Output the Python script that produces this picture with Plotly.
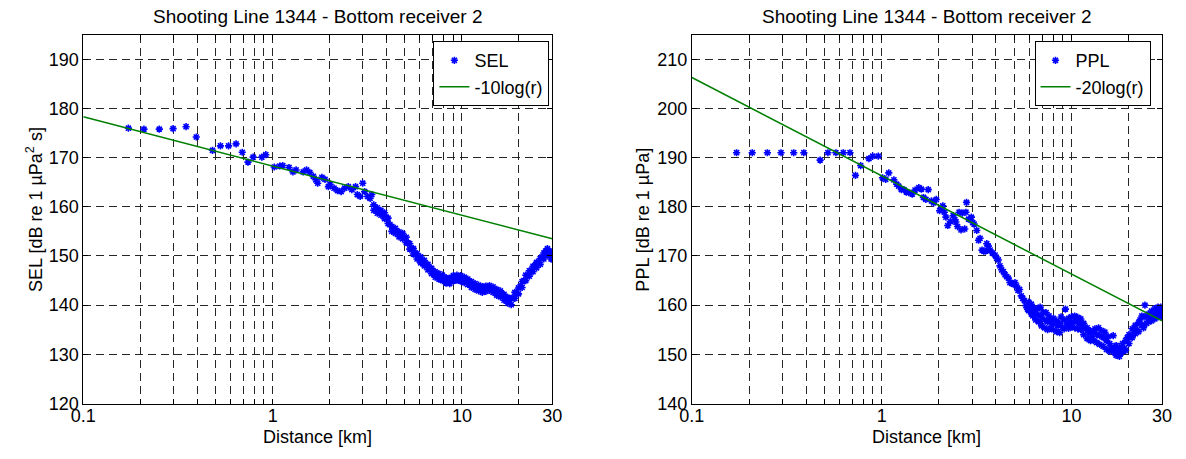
import math
import plotly.graph_objects as go

# ---------------- data ----------------
sel_points = [
    (0.173, 176.0), (0.209, 175.8), (0.252, 175.8), (0.298, 175.9), (0.349, 176.3), (0.395, 174.2),
    (0.481, 171.5), (0.530, 172.4), (0.585, 172.4), (0.641, 172.8), (0.691, 171.1), (0.741, 169.1),
    (0.789, 170.1), (0.877, 170.1), (0.920, 170.6),
    (1.02, 168.1), (1.09, 168.3), (1.13, 168.4), (1.22, 168.0), (1.28, 167.1), (1.33, 167.5),
    (1.45, 167.1), (1.51, 167.5), (1.57, 167.0), (1.64, 166.2), (1.69, 165.5), (1.73, 164.8),
    (1.82, 166.0), (1.89, 165.6), (1.97, 164.1), (2.01, 164.6), (2.11, 163.8), (2.20, 163.3),
    (2.30, 163.1), (2.40, 163.8), (2.51, 164.1), (2.62, 163.5), (2.74, 164.1), (2.80, 162.5),
    (2.90, 162.1), (2.99, 164.8), (3.06, 163.1), (3.17, 162.1), (3.27, 161.7), (3.34, 162.5),
    (3.42, 160.4), (3.42, 159.3), (3.50, 159.6), (3.57, 159.8), (3.57, 158.7), (3.65, 159.0),
    (3.73, 159.3), (3.73, 158.3), (3.81, 158.6), (3.90, 158.8), (3.90, 157.6), (3.98, 157.9),
    (4.07, 157.7), (4.07, 156.6), (4.16, 156.4), (4.26, 156.0), (4.26, 155.0), (4.35, 155.6),
    (4.45, 155.6), (4.45, 154.6), (4.55, 154.9), (4.65, 154.9), (4.65, 153.9), (4.75, 154.4),
    (4.86, 154.6), (4.86, 153.5), (4.97, 153.7), (5.08, 153.8), (5.08, 152.7), (5.19, 152.6),
    (5.30, 152.5), (5.30, 151.4), (5.42, 151.5), (5.54, 151.5), (5.54, 150.4), (5.66, 150.5),
    (5.79, 150.5), (5.79, 149.4), (5.92, 149.6), (6.05, 149.8), (6.05, 148.6), (6.19, 148.9),
    (6.33, 149.1), (6.33, 148.0), (6.47, 148.2), (6.61, 148.3), (6.61, 147.2), (6.76, 147.5),
    (6.91, 147.5), (6.91, 146.4), (7.06, 146.8), (7.22, 146.8), (7.22, 145.7), (7.38, 146.3),
    (7.55, 146.4), (7.55, 145.3), (7.71, 145.8), (7.88, 146.1), (7.88, 145.0), (8.06, 145.5),
    (8.24, 145.6), (8.24, 144.5), (8.42, 145.1), (8.61, 145.5), (8.61, 144.4), (8.80, 145.1),
    (9.00, 146.0), (9.00, 144.9), (9.20, 145.5), (9.40, 146.1), (9.40, 145.1), (9.61, 145.7),
    (9.83, 146.0), (9.83, 144.9), (10.05, 145.5), (10.27, 145.7), (10.27, 144.6), (10.50, 145.2),
    (10.73, 145.3), (10.73, 144.2), (10.97, 144.8), (11.21, 144.8), (11.21, 143.6), (11.46, 144.2),
    (11.72, 144.4), (11.72, 143.2), (11.98, 143.8), (12.24, 144.1), (12.24, 142.9), (12.52, 143.7),
    (12.80, 143.8), (12.80, 142.6), (13.08, 143.2), (13.37, 143.9), (13.37, 142.8), (13.67, 143.5),
    (13.97, 144.0), (13.97, 143.0), (14.28, 143.4), (14.60, 143.7), (14.60, 142.6), (14.93, 143.1),
    (15.26, 143.2), (15.26, 142.0), (15.60, 142.8), (15.95, 142.9), (15.95, 141.7), (16.30, 142.2),
    (16.67, 142.2), (16.67, 141.0), (17.04, 141.6), (17.42, 141.6), (17.42, 140.4), (17.80, 141.0),
    (18.20, 141.4), (18.20, 140.1), (18.60, 141.5), (19.02, 142.6), (19.02, 141.4), (19.44, 142.5),
    (19.88, 143.5), (19.88, 142.3), (20.32, 143.8), (20.77, 144.8), (20.77, 143.6), (21.23, 145.0),
    (21.71, 146.1), (21.71, 145.0), (22.19, 146.1), (22.68, 147.0), (22.68, 145.9), (23.19, 147.0),
    (23.71, 147.9), (23.71, 146.8), (24.23, 148.0), (24.77, 148.7), (24.77, 147.6), (25.32, 148.7),
    (25.89, 149.5), (25.89, 148.3), (26.46, 149.8), (27.05, 150.6), (27.05, 149.4), (27.65, 151.0),
    (28.27, 151.5), (28.27, 150.2), (28.90, 151.0), (29.54, 150.6), (29.54, 149.4), (29.90, 149.4),
    (29.90, 150.2),
]

ppl_points = [
    (0.172, 191.0), (0.208, 191.0), (0.250, 191.0), (0.295, 191.0), (0.344, 191.0), (0.389, 191.0),
    (0.474, 189.5), (0.521, 191.0), (0.574, 191.0), (0.628, 191.0), (0.681, 191.0), (0.728, 186.4),
    (0.775, 188.4), (0.857, 189.8), (0.897, 190.3), (0.960, 190.3),
    (1.01, 185.9), (1.05, 185.6), (1.09, 186.9), (1.16, 185.5), (1.20, 184.6), (1.23, 184.2),
    (1.27, 183.5), (1.31, 183.5), (1.35, 183.0), (1.39, 182.9), (1.45, 182.6), (1.50, 183.4),
    (1.57, 183.9), (1.62, 183.6), (1.66, 181.9), (1.71, 181.5), (1.76, 183.5), (1.83, 181.2),
    (1.88, 180.8), (1.94, 181.5), (2.02, 179.2), (2.06, 179.8), (2.10, 180.2), (2.14, 178.9),
    (2.18, 177.9), (2.23, 176.2), (2.30, 177.0), (2.38, 178.2), (2.43, 177.4), (2.46, 176.9),
    (2.51, 176.0), (2.56, 178.9), (2.62, 175.3), (2.66, 178.7), (2.74, 175.5), (2.78, 178.9),
    (2.80, 180.9), (2.87, 177.5), (2.97, 177.9), (3.02, 176.8), (3.07, 176.5), (3.17, 175.2),
    (3.24, 173.2), (3.30, 173.6), (3.38, 171.2), (3.45, 171.0), (3.53, 171.0), (3.58, 172.5),
    (3.65, 172.0), (3.73, 171.2), (3.83, 170.6), (3.96, 170.2), (4.04, 169.5), (4.12, 169.2),
    (4.20, 168.0), (4.29, 167.2), (4.38, 166.8), (4.47, 166.2), (4.56, 165.8), (4.65, 165.5),
    (4.74, 164.6), (4.84, 164.5), (4.94, 164.3), (5.04, 164.6), (5.14, 163.9), (5.23, 163.0),
    (5.33, 163.2), (5.44, 161.9), (5.54, 161.4), (5.65, 160.9), (5.76, 159.9), (5.87, 159.2),
    (5.95, 160.6), (5.95, 158.9), (6.05, 159.8), (6.15, 160.2), (6.15, 158.2), (6.26, 159.5),
    (6.26, 157.8), (6.37, 159.0), (6.48, 158.4), (6.48, 157.0), (6.60, 159.3), (6.72, 158.0),
    (6.72, 156.6), (6.84, 159.6), (6.96, 157.5), (6.96, 155.8), (7.09, 158.6), (7.22, 157.0),
    (7.22, 155.4), (7.35, 158.5), (7.49, 156.6), (7.49, 155.0), (7.62, 157.8), (7.76, 157.0),
    (7.76, 155.3), (7.90, 156.2), (8.05, 157.3), (8.05, 155.0), (8.20, 156.4), (8.35, 156.8),
    (8.35, 154.6), (8.50, 155.8), (8.66, 156.3), (8.66, 154.4), (8.82, 157.6), (8.98, 155.5),
    (9.15, 157.0), (9.15, 155.2), (9.30, 159.2), (9.48, 156.2), (9.65, 157.3), (9.65, 155.3),
    (9.83, 156.4), (10.0, 157.6), (10.0, 155.6), (10.2, 156.6), (10.4, 157.8), (10.4, 155.4),
    (10.6, 156.8), (10.8, 157.5), (10.8, 155.2), (11.0, 156.2), (11.2, 157.2), (11.2, 155.0),
    (11.4, 155.8), (11.6, 156.3), (11.6, 154.0), (11.9, 155.2), (12.1, 155.4), (12.1, 153.2),
    (12.3, 154.4), (12.6, 154.8), (12.6, 152.8), (12.8, 153.6), (13.1, 154.5), (13.1, 152.8),
    (13.3, 155.2), (13.6, 154.0), (13.6, 152.4), (13.9, 155.4), (14.1, 153.8), (14.1, 152.0),
    (14.4, 154.8), (14.7, 153.4), (14.7, 151.6), (15.0, 154.5), (15.3, 152.8), (15.3, 151.0),
    (15.6, 153.6), (15.9, 152.2), (15.9, 150.6), (16.2, 151.5), (16.6, 153.8), (16.6, 151.0),
    (16.9, 150.4), (17.2, 151.8), (17.2, 149.8), (17.6, 150.8), (17.9, 149.6), (17.9, 151.4),
    (18.2, 150.2), (18.6, 150.6), (18.6, 152.2), (19.0, 151.2), (19.3, 152.8), (19.3, 150.8),
    (19.7, 153.4), (20.1, 154.0), (20.1, 152.2), (20.5, 153.6), (20.9, 155.2), (20.9, 153.4),
    (21.3, 154.4), (21.7, 155.9), (21.7, 154.2), (22.2, 155.0), (22.6, 156.4), (22.6, 154.6),
    (23.0, 157.0), (23.5, 156.0), (23.5, 157.8), (24.0, 155.4), (24.4, 157.6), (24.4, 160.0),
    (24.9, 156.3), (25.4, 158.2), (25.4, 156.6), (25.9, 157.6), (26.4, 158.8), (26.4, 156.8),
    (26.9, 158.0), (27.5, 159.3), (27.5, 157.2), (28.0, 158.4), (28.6, 159.6), (28.6, 157.6),
    (29.1, 158.6), (29.6, 158.2), (29.6, 159.6), (29.95, 157.6), (29.95, 158.8),
]

sel_distance = [p[0] for p in sel_points]
sel_level = [p[1] for p in sel_points]
ppl_distance = [p[0] for p in ppl_points]
ppl_level = [p[1] for p in ppl_points]

# fitted spreading-loss lines (end points)
fit_distance = [0.1, 30]
sel_fit = [178.3, 153.5]
ppl_fit = [206.3, 156.8]

x_grid = [0.1, 0.2, 0.3, 0.4, 0.5, 0.6, 0.7, 0.8, 0.9, 1, 2, 3, 4, 5, 6, 7, 8, 9, 10, 20, 30]
x_labels = ["0.1", "", "", "", "", "", "", "", "", "1", "", "", "", "", "", "", "", "", "10", "", "30"]
sel_ticks = [120, 130, 140, 150, 160, 170, 180, 190]
ppl_ticks = [140, 150, 160, 170, 180, 190, 200, 210]

title_text = "Shooting Line 1344 - Bottom receiver 2"

# ---------------- figure ----------------
W, H = 1186, 459
FONT = "Arial, 'Liberation Sans', sans-serif"
BLUE = "rgb(0,0,255)"
GREEN = "rgb(0,128,0)"
TICK_SIZE = 18
TITLE_SIZE = 19
LABEL_SIZE = 18
LEGEND_SIZE = 18

marker = dict(symbol="asterisk-open", size=6, color=BLUE, line=dict(color=BLUE, width=1.6))

fig = go.Figure()
fig.add_trace(go.Scatter(x=sel_distance, y=sel_level, mode="markers", name="SEL",
                         marker=marker, xaxis="x", yaxis="y", legend="legend"))
fig.add_trace(go.Scatter(x=fit_distance, y=sel_fit, mode="lines", name="-10log(r)",
                         line=dict(color=GREEN, width=1.5), xaxis="x", yaxis="y", legend="legend"))
fig.add_trace(go.Scatter(x=ppl_distance, y=ppl_level, mode="markers", name="PPL",
                         marker=marker, xaxis="x2", yaxis="y2", legend="legend2"))
fig.add_trace(go.Scatter(x=fit_distance, y=ppl_fit, mode="lines", name="-20log(r)",
                         line=dict(color=GREEN, width=1.5), xaxis="x2", yaxis="y2", legend="legend2"))


def px_x(p):
    return p / W


def px_y(p):
    return 1 - p / H


left_dom = [px_x(71.7), px_x(550)]
right_dom = [px_x(692.3), px_x(1171.7)]
y_dom = [px_y(412.5), px_y(35.5)]

axis_common = dict(
    showline=True, linecolor="black", linewidth=1, mirror="ticks",
    ticks="inside", ticklen=5, tickcolor="black", tickwidth=1,
    showgrid=True, gridcolor="#262626", gridwidth=1, griddash="8px,5px",
    zeroline=False, tickangle=0,
    tickfont=dict(family=FONT, size=TICK_SIZE, color="black"),
)

xr = [-1, math.log10(30)]

fig.update_layout(
    width=W, height=H, autosize=False,
    margin=dict(l=0, r=0, t=0, b=0),
    paper_bgcolor="white", plot_bgcolor="white",
    font=dict(family=FONT, size=TICK_SIZE, color="black"),
    xaxis=dict(axis_common, type="log", range=xr, domain=left_dom, anchor="y",
               tickvals=x_grid, ticktext=x_labels, ticklabelstandoff=-4),
    yaxis=dict(axis_common, range=[120, 195], domain=y_dom, anchor="x",
               tickvals=sel_ticks),
    xaxis2=dict(axis_common, type="log", range=xr, domain=right_dom, anchor="y2",
                tickvals=x_grid, ticktext=x_labels, ticklabelstandoff=-4),
    yaxis2=dict(axis_common, range=[140, 215], domain=y_dom, anchor="x2",
                tickvals=ppl_ticks),
    legend=dict(x=px_x(547), y=px_y(42), xanchor="right", yanchor="top",
                bordercolor="black", borderwidth=1, bgcolor="white",
                font=dict(family=FONT, size=LEGEND_SIZE, color="black"), tracegroupgap=0),
    legend2=dict(x=px_x(1160), y=px_y(42), xanchor="right", yanchor="top",
                 bordercolor="black", borderwidth=1, bgcolor="white",
                 font=dict(family=FONT, size=LEGEND_SIZE, color="black"), tracegroupgap=0),
    showlegend=True,
)

title_font = dict(family=FONT, size=TITLE_SIZE, color="black")
label_font = dict(family=FONT, size=LABEL_SIZE, color="black")
annotations = [
    dict(text=title_text, x=sum(left_dom) / 2, y=px_y(17), xref="paper", yref="paper",
         showarrow=False, xanchor="center", yanchor="middle", font=title_font),
    dict(text=title_text, x=sum(right_dom) / 2, y=px_y(17), xref="paper", yref="paper",
         showarrow=False, xanchor="center", yanchor="middle", font=title_font),
    dict(text="Distance [km]", x=sum(left_dom) / 2, y=px_y(447), xref="paper", yref="paper",
         showarrow=False, xanchor="center", yanchor="middle", font=label_font),
    dict(text="Distance [km]", x=sum(right_dom) / 2, y=px_y(447), xref="paper", yref="paper",
         showarrow=False, xanchor="center", yanchor="middle", font=label_font),
    dict(text="SEL [dB re 1 µPa<sup>2</sup> s]", x=px_x(22), y=px_y(214), xref="paper", yref="paper",
         showarrow=False, xanchor="center", yanchor="middle", textangle=-90, font=label_font),
    dict(text="PPL [dB re 1 µPa]", x=px_x(643), y=px_y(225), xref="paper", yref="paper",
         showarrow=False, xanchor="center", yanchor="middle", textangle=-90, font=label_font),
]
fig.update_layout(annotations=annotations)

fig.write_html("out.html")
